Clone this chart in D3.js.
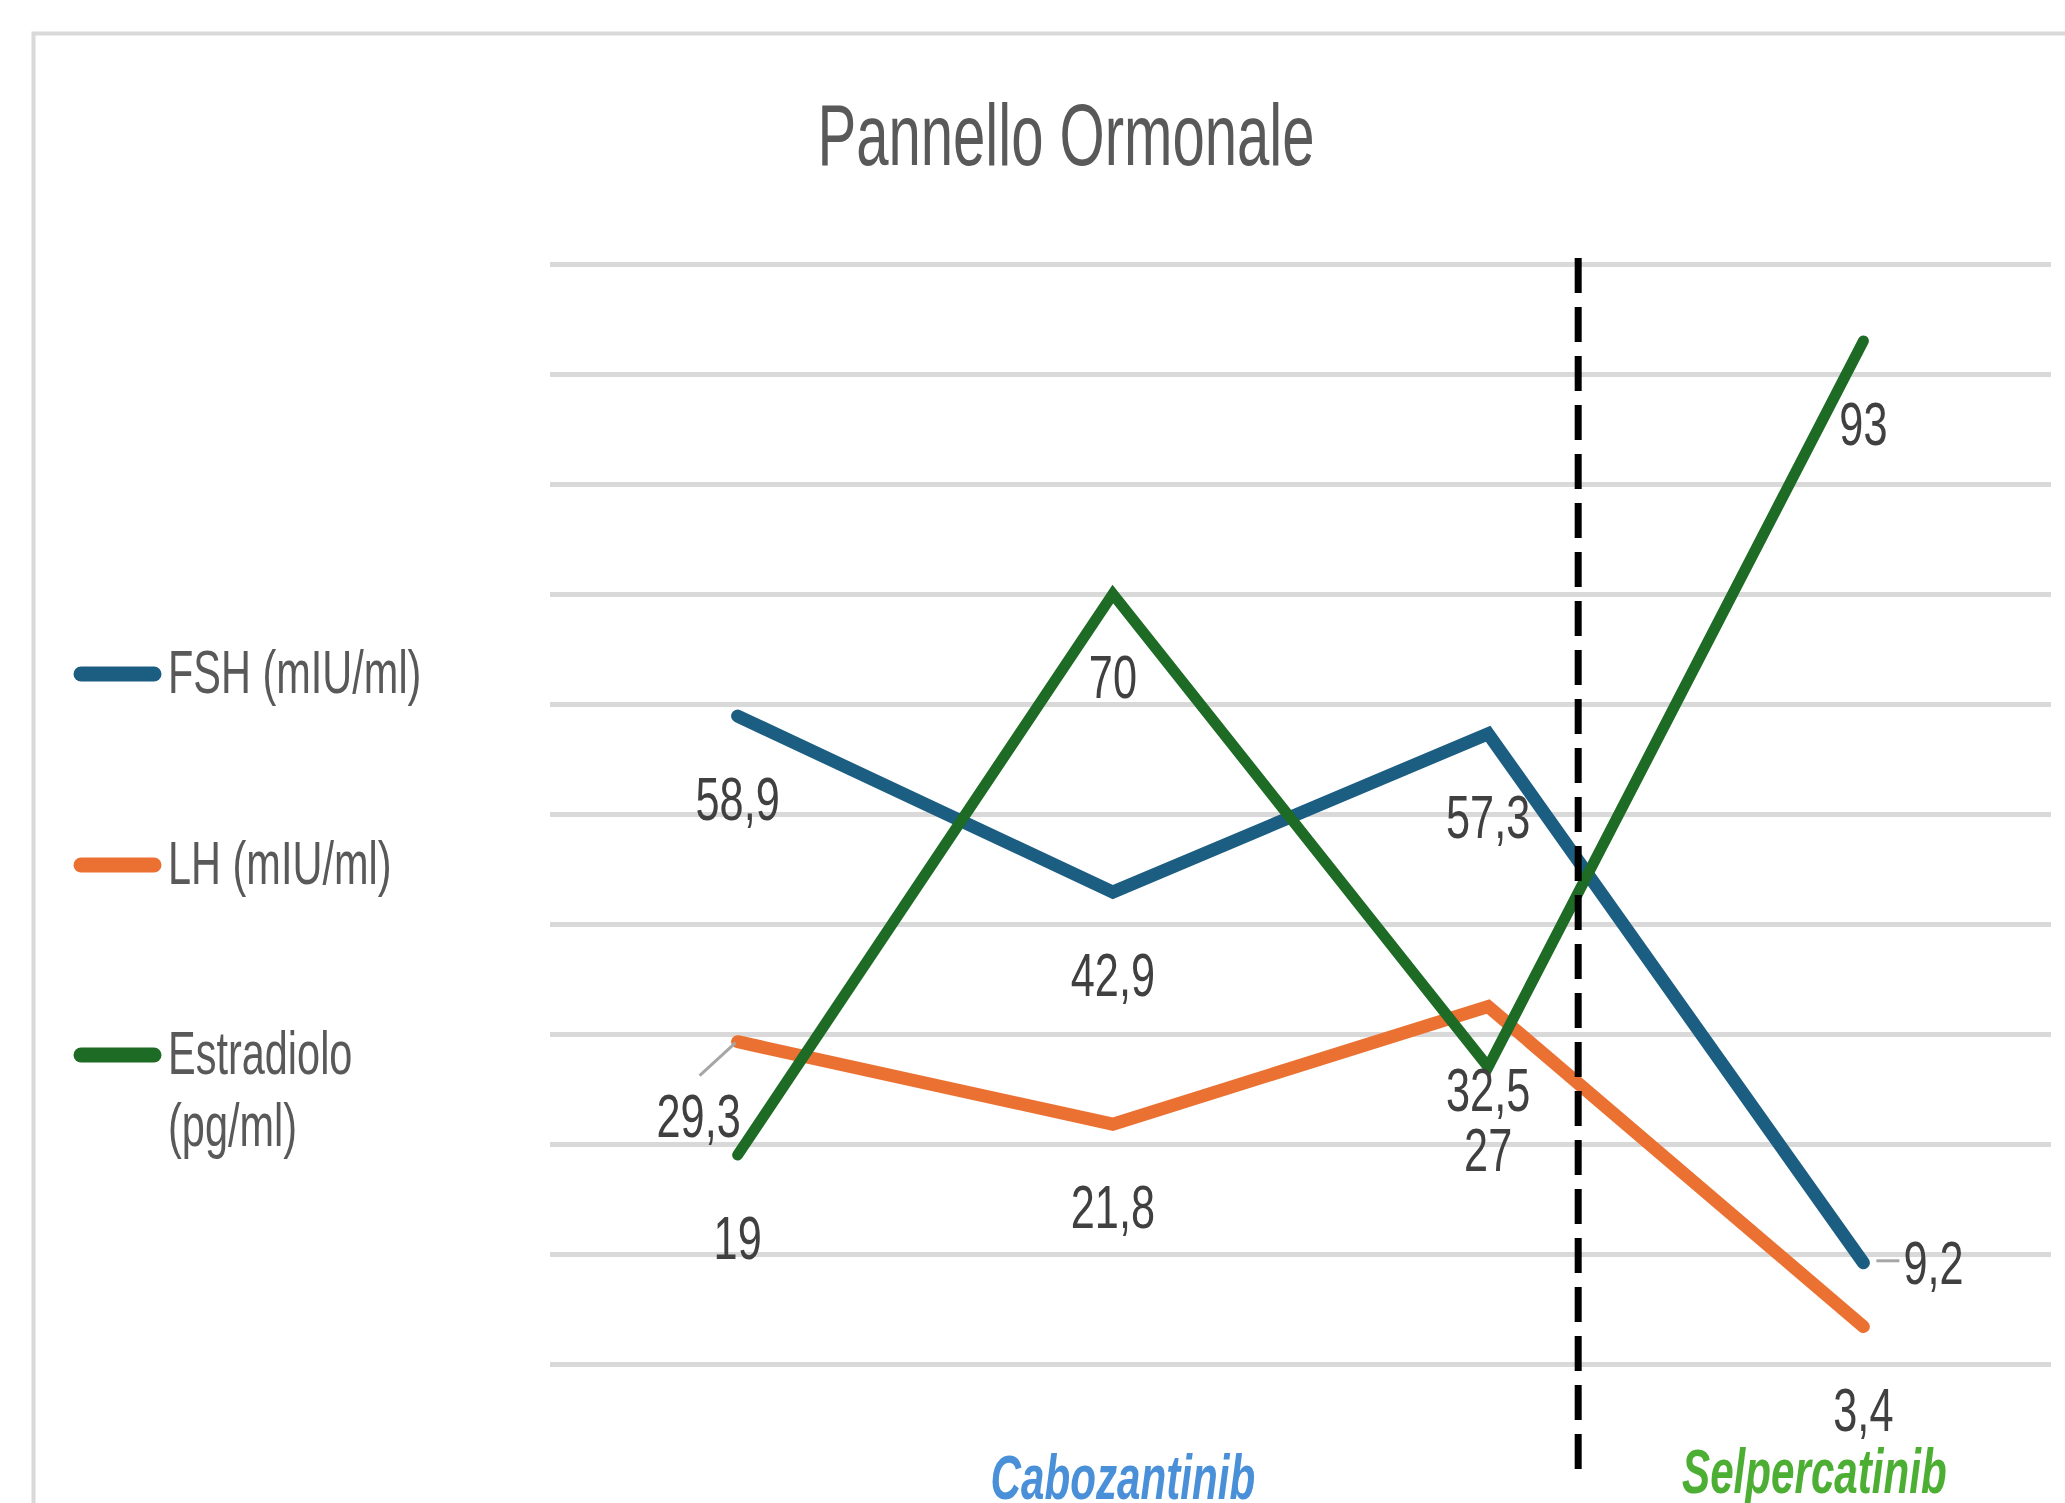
<!DOCTYPE html>
<html>
<head>
<meta charset="utf-8">
<script src="https://cdn.jsdelivr.net/npm/d3@7"></script>
<style>
  html, body { margin: 0; padding: 0; background: #ffffff; }
  svg { display: block; }
  text { font-family: "Liberation Sans", Arial, sans-serif; }
</style>
</head>
<body>
<svg id="chart" width="2065" height="1503"></svg>
<script>
// ---------------- data ----------------
const categories = ["T1", "T2", "T3", "T4"];
const seriesNames = ["FSH (mIU/ml)", "LH (mIU/ml)", "Estradiolo (pg/ml)"];
const fshValues = [58.9, 42.9, 57.3, 9.2];
const lhValues = [29.3, 21.8, 32.5, 3.4];
const estradioloValues = [19, 70, 27, 93];
const fshLabels = ["58,9", "42,9", "57,3", "9,2"];
const lhLabels = ["29,3", "21,8", "32,5", "3,4"];
const estradioloLabels = ["19", "70", "27", "93"];
const yTicks = [0, 10, 20, 30, 40, 50, 60, 70, 80, 90, 100];
const titleText = "Pannello Ormonale";
const therapyLabels = ["Cabozantinib", "Selpercatinib"];

// ---------------- layout / style ----------------
const W = 2065, H = 1503;
const plot = { left: 550, right: 2051, top: 264, bottom: 1364 };
const colors = ["#1b5e82", "#eb7132", "#1e6b25"];
const widths = [13, 13, 11];

const series = [
  { name: seriesNames[0], values: fshValues, labels: fshLabels, color: colors[0], width: widths[0] },
  { name: seriesNames[1], values: lhValues, labels: lhLabels, color: colors[1], width: widths[1] },
  { name: seriesNames[2], values: estradioloValues, labels: estradioloLabels, color: colors[2], width: widths[2] }
];

// manual label nudges (series index, point index) -> offset from the point
const labelNudge = {
  "0-3": { dx: 40, dy: 21, anchor: "start", leader: [[13, -2], [36, -2]] },
  "1-0": { dx: -39, dy: 95, anchor: "middle", leader: [[-38, 34], [-2, 1]] }
};

const svg = d3.select("#chart");

const x = d3.scalePoint().domain(categories).range([plot.left, plot.right]).padding(0.5);
const y = d3.scaleLinear().domain([0, 100]).range([plot.bottom, plot.top]);

// helper for horizontally condensed text
function ctext(parent, px, py, str, o) {
  const g = parent.append("g").attr("transform", `translate(${px},${py}) scale(${o.sx},1)`);
  return g.append("text")
    .attr("x", 0).attr("y", 0)
    .attr("text-anchor", o.anchor || "middle")
    .attr("font-size", o.size)
    .attr("font-weight", o.weight || "normal")
    .attr("font-style", o.style || "normal")
    .attr("fill", o.fill)
    .text(str);
}

// chart area border
svg.append("rect")
  .attr("x", 33.5).attr("y", 33.5)
  .attr("width", W + 50).attr("height", H + 50)
  .attr("fill", "#ffffff")
  .attr("stroke", "#d9d9d9").attr("stroke-width", 4);

// title
ctext(svg, 1066, 165, titleText, { sx: 0.66, size: 88, fill: "#595959" });

// gridlines via axis
const yAxis = d3.axisLeft(y).tickValues(yTicks).tickSize(-(plot.right - plot.left)).tickFormat("");
const gy = svg.append("g").attr("transform", `translate(${plot.left},0)`).call(yAxis);
gy.select(".domain").remove();
gy.selectAll(".tick line").attr("stroke", "#d9d9d9").attr("stroke-width", 5);

// hidden x axis (no labels / line in the reference)
const xAxis = d3.axisBottom(x).tickSize(0).tickFormat("");
const gx = svg.append("g").attr("transform", `translate(0,${plot.bottom})`).call(xAxis);
gx.select(".domain").remove();

// lines
const line = d3.line().x((d, i) => x(categories[i])).y(d => y(d));
series.forEach(s => {
  svg.append("path")
    .datum(s.values)
    .attr("d", line)
    .attr("fill", "none")
    .attr("stroke", s.color)
    .attr("stroke-width", s.width)
    .attr("stroke-linejoin", "miter")
    .attr("stroke-linecap", "round");
});

// data labels
const labelSize = 61, labelSx = 0.71, labelBelow = 104;
series.forEach((s, si) => {
  s.values.forEach((v, i) => {
    const px = x(categories[i]), py = y(v);
    const nudge = labelNudge[`${si}-${i}`];
    if (nudge) {
      svg.append("line")
        .attr("x1", px + nudge.leader[0][0]).attr("y1", py + nudge.leader[0][1])
        .attr("x2", px + nudge.leader[1][0]).attr("y2", py + nudge.leader[1][1])
        .attr("stroke", "#a6a6a6").attr("stroke-width", 3);
      ctext(svg, px + nudge.dx, py + nudge.dy, s.labels[i],
        { sx: labelSx, size: labelSize, fill: "#404040", anchor: nudge.anchor });
    } else {
      ctext(svg, px, py + labelBelow, s.labels[i],
        { sx: labelSx, size: labelSize, fill: "#404040" });
    }
  });
});

// therapy separator (dashed)
const step = x.step();
const sepX = x(categories[2]) + 0.24 * step;
svg.append("line")
  .attr("x1", sepX).attr("x2", sepX)
  .attr("y1", y(100) - 6).attr("y2", 1473)
  .attr("stroke", "#000000").attr("stroke-width", 7)
  .attr("stroke-dasharray", "35,14");

// therapy annotations
ctext(svg, x(categories[1]) + 10, 1499, therapyLabels[0],
  { sx: 0.68, size: 62, weight: "bold", style: "italic", fill: "#4a90d9" });
ctext(svg, x(categories[3]) - 49, 1493, therapyLabels[1],
  { sx: 0.68, size: 62, weight: "bold", style: "italic", fill: "#4caf34" });

// legend
const legend = svg.append("g");
const legendRows = [
  { lineY: 674, lines: ["FSH (mIU/ml)"] },
  { lineY: 865, lines: ["LH (mIU/ml)"] },
  { lineY: 1055, lines: ["Estradiolo", "(pg/ml)"] }
];
legendRows.forEach((r, i) => {
  legend.append("line")
    .attr("x1", 81).attr("x2", 154)
    .attr("y1", r.lineY).attr("y2", r.lineY)
    .attr("stroke", series[i].color).attr("stroke-width", 15)
    .attr("stroke-linecap", "round");
  r.lines.forEach((t, k) => {
    ctext(legend, 168, r.lineY + 19 + k * 72, t,
      { sx: 0.68, size: 61, fill: "#595959", anchor: "start" });
  });
});
</script>
</body>
</html>
